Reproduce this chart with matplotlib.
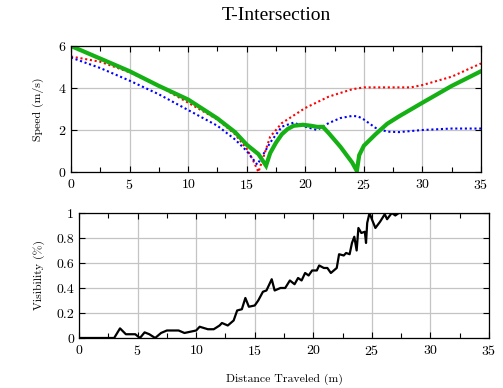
import matplotlib
matplotlib.use('Agg')
from matplotlib import pyplot as plt
from matplotlib.ticker import MultipleLocator

plt.rcParams['font.family'] = 'cmr10'
plt.rcParams['mathtext.fontset'] = 'cm'
plt.rcParams['axes.formatter.use_mathtext'] = True

#Speed profiles (m/s) vs distance (m)
green_x = [0, 2.5, 5, 7.5, 10, 12.5, 14, 15, 16, 16.65, 17, 17.5, 18, 18.5, 19, 19.8,
           20.5, 21, 21.5, 22, 23, 24, 24.4, 24.6, 25, 26, 27, 28, 30, 32.5, 35]
green_y = [6, 5.4, 4.8, 4.1, 3.45, 2.55, 1.9, 1.3, 0.85, 0.3, 0.9, 1.4, 1.8, 2.05, 2.2, 2.25,
           2.2, 2.15, 2.15, 1.85, 1.2, 0.45, 0.05, 0.8, 1.25, 1.8, 2.3, 2.65, 3.3, 4.1, 4.8]

red_x = [0, 2.5, 5, 7.5, 10, 12.5, 14, 15, 15.5, 16, 17, 18, 20, 22, 24, 25, 27, 29, 30, 32.5, 35]
red_y = [5.5, 5.25, 4.75, 4.1, 3.3, 2.5, 1.8, 1.1, 0.6, 0, 1.68, 2.33, 3.05, 3.59, 3.94, 4.03,
         4.03, 4.03, 4.14, 4.54, 5.17]

blue_x = [0, 2.5, 5, 7.5, 10, 12.5, 14, 15, 15.9, 17, 18, 19, 20, 21, 22, 23, 24, 24.5,
          25, 26, 27, 28, 30, 32.5, 35]
blue_y = [5.45, 4.95, 4.35, 3.7, 2.95, 2.2, 1.55, 1.0, 0.35, 1.4, 2.16, 2.35, 2.16, 2.0, 2.33,
          2.57, 2.67, 2.65, 2.5, 2.1, 1.92, 1.9, 2.0, 2.07, 2.07]

#Visibility vs distance
vis_x = [0, 3, 3.5, 4, 4.8, 5.2, 5.6, 6, 6.5, 7, 7.5, 8.5, 9, 9.5, 10, 10.3, 11, 11.5, 12,
         12.2, 12.7, 13.2, 13.5, 13.9, 14.2, 14.5, 15.0, 15.3, 15.7, 16.0, 16.45, 16.7, 17.2,
         17.6, 18.0, 18.4, 18.7, 19.0, 19.3, 19.6, 19.9, 20.3, 20.5, 20.9, 21.2, 21.5, 22.0,
         22.2, 22.6, 22.8, 23.1, 23.3, 23.5, 23.7, 23.85, 24.1, 24.4, 24.5, 24.6, 24.8, 25.0,
         25.3, 25.7, 26.1, 26.3, 26.7, 27.0, 27.3, 35]
vis_y = [0, 0, 0.077, 0.03, 0.03, 0.0, 0.045, 0.03, 0.0, 0.04, 0.06, 0.06, 0.04, 0.05, 0.06,
         0.09, 0.07, 0.07, 0.1, 0.12, 0.1, 0.14, 0.22, 0.23, 0.32, 0.25, 0.26, 0.30, 0.37, 0.38,
         0.47, 0.38, 0.40, 0.40, 0.46, 0.43, 0.48, 0.46, 0.52, 0.50, 0.54, 0.54, 0.58, 0.56,
         0.56, 0.52, 0.56, 0.67, 0.66, 0.68, 0.67, 0.76, 0.81, 0.70, 0.88, 0.84, 0.85, 0.76,
         0.92, 1.0, 0.95, 0.88, 0.93, 0.99, 0.95, 1.0, 0.98, 1.0, 1.0]

speed_ticks = [0, 2, 4, 6]
vis_ticks = [0, 0.2, 0.4, 0.6, 0.8, 1]
vis_ticklabels = ['0', '0.2', '0.4', '0.6', '0.8', '1']
dist_ticks = [0, 5, 10, 15, 20, 25, 30, 35]


def style_axes(ax):
    #pgfplots-like look: inward ticks on all sides, light major grid
    ax.grid(True, color='#c4c4c4', lw=0.9)
    ax.set_axisbelow(True)
    ax.xaxis.set_minor_locator(MultipleLocator(2.5))
    ax.tick_params(which='both', direction='in', top=True, right=True,
                   labelsize=10, width=0.8)
    ax.tick_params(which='major', length=4.5)
    ax.tick_params(which='minor', length=3.5)
    ax.tick_params(axis='x', pad=4)
    for s in ax.spines.values():
        s.set_linewidth(0.9)


fig = plt.figure(figsize=(5.03, 3.88), dpi=100)
ax1 = fig.add_axes([0.1412, 0.5567, 0.8151, 0.3247])
ax2 = fig.add_axes([0.1571, 0.1289, 0.8151, 0.3222])

dots = (0, (1, 1.3))
ax1.plot(red_x, red_y, color='red', lw=1.5, ls=dots)
ax1.plot(blue_x, blue_y, color='blue', lw=1.5, ls=dots)
ax1.plot(green_x, green_y, color='#14b014', lw=3.0, solid_joinstyle='miter')
ax1.set_xlim(0, 35)
ax1.set_ylim(0, 6)
ax1.set_xticks(dist_ticks)
ax1.set_yticks(speed_ticks)
ax1.set_ylabel('Speed (m/s)', fontsize=8.5, labelpad=10)
style_axes(ax1)

ax2.plot(vis_x, vis_y, color='black', lw=1.6)
ax2.set_xlim(0, 35)
ax2.set_ylim(0, 1)
ax2.set_xticks(dist_ticks)
ax2.set_yticks(vis_ticks)
ax2.set_yticklabels(vis_ticklabels)
ax2.set_ylabel('Visibility (%)', fontsize=8.5, labelpad=8)
ax2.set_xlabel('Distance Traveled (m)', fontsize=8.5, labelpad=12)
style_axes(ax2)

fig.text(0.549, 1 - 16 / 388, 'T-Intersection', ha='center', va='center',
         fontsize=14, family='Liberation Serif')

plt.savefig('out.png', dpi=100)
